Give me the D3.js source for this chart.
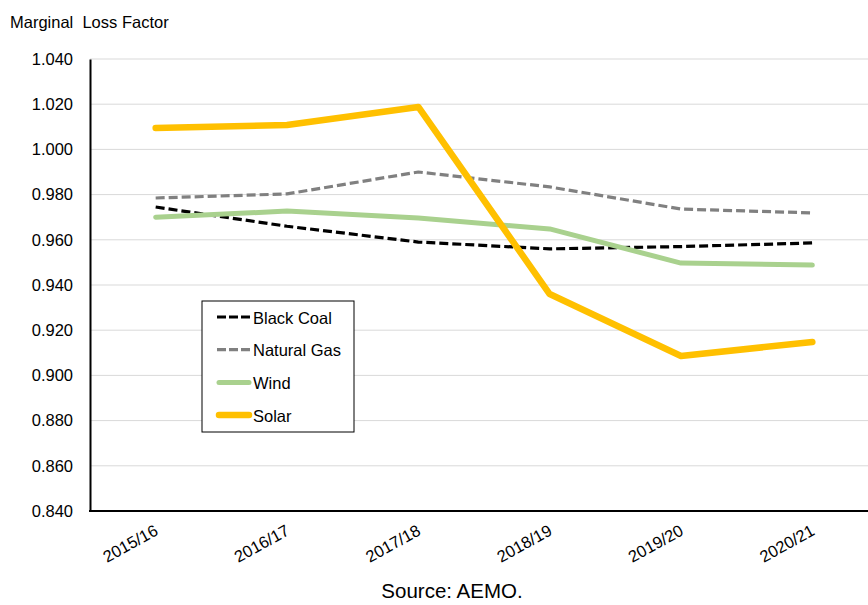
<!DOCTYPE html>
<html>
<head>
<meta charset="utf-8">
<script src="https://cdn.jsdelivr.net/npm/d3@7"></script>
<style>
  body { margin: 0; background: #fff; }
  svg { font-family: "Liberation Sans", Arial, sans-serif; }
</style>
</head>
<body>
<svg width="868" height="605"></svg>
<script>
// data
var years = ["2015/16", "2016/17", "2017/18", "2018/19", "2019/20", "2020/21"];
var blackCoal = [0.9745, 0.966, 0.959, 0.956, 0.957, 0.9586];
var naturalGas = [0.9785, 0.9803, 0.990, 0.9834, 0.9736, 0.9719];
var wind = [0.970, 0.9727, 0.9696, 0.9648, 0.9497, 0.9488];
var solar = [1.0095, 1.0108, 1.0188, 0.936, 0.9086, 0.9148];
var yTicks = [0.84, 0.86, 0.88, 0.90, 0.92, 0.94, 0.96, 0.98, 1.00, 1.02, 1.04];

var series = [
  { name: "Black Coal", values: blackCoal, color: "#000000", width: 3.2, dash: "9,4" },
  { name: "Natural Gas", values: naturalGas, color: "#808080", width: 3.2, dash: "9,4" },
  { name: "Wind", values: wind, color: "#a9d18e", width: 5, dash: null },
  { name: "Solar", values: solar, color: "#ffc000", width: 6.5, dash: null }
];

var svg = d3.select("svg");

var x = d3.scalePoint(years, [90, 878]).padding(0.5);
var y = d3.scaleLinear([0.84, 1.04], [511, 59]);

// gridlines
svg.append("g")
  .selectAll("line")
  .data(yTicks.slice(1))
  .enter().append("line")
  .attr("x1", 90).attr("x2", 868)
  .attr("y1", function (d) { return y(d); })
  .attr("y2", function (d) { return y(d); })
  .attr("stroke", "#d9d9d9")
  .attr("stroke-width", 1);

// y axis
var yAxis = svg.append("g")
  .attr("transform", "translate(90,0)")
  .call(d3.axisLeft(y).tickValues(yTicks).tickFormat(d3.format(".3f")).tickSize(0).tickPadding(17));
yAxis.select(".domain").attr("stroke", "#000").attr("stroke-width", 2);
yAxis.selectAll("text").attr("font-size", 16.5).attr("fill", "#000")
  .attr("font-family", "Liberation Sans, Arial, sans-serif");

// x axis
var xAxis = svg.append("g")
  .attr("transform", "translate(0,511)")
  .call(d3.axisBottom(x).tickSize(0).tickPadding(0));
xAxis.select(".domain").remove();
svg.append("line")
  .attr("x1", 89).attr("x2", 868)
  .attr("y1", 511).attr("y2", 511)
  .attr("stroke", "#000").attr("stroke-width", 2);
xAxis.selectAll("text")
  .attr("font-size", 16.5).attr("fill", "#000")
  .attr("font-family", "Liberation Sans, Arial, sans-serif")
  .attr("text-anchor", "end")
  .attr("dy", 0).attr("y", 0)
  .attr("transform", "translate(3,23) rotate(-29)");

// lines
var line = d3.line()
  .x(function (d, i) { return x(years[i]); })
  .y(function (d) { return y(d); });

svg.append("g")
  .selectAll("path")
  .data(series)
  .enter().append("path")
  .attr("d", function (d) { return line(d.values); })
  .attr("fill", "none")
  .attr("stroke", function (d) { return d.color; })
  .attr("stroke-width", function (d) { return d.width; })
  .attr("stroke-dasharray", function (d) { return d.dash; })
  .attr("stroke-linecap", function (d) { return d.dash ? "butt" : "round"; })
  .attr("stroke-linejoin", "round");

// legend
var legend = svg.append("g");
legend.append("rect")
  .attr("x", 202).attr("y", 301).attr("width", 152).attr("height", 131)
  .attr("fill", "#fff").attr("stroke", "#000").attr("stroke-width", 1);

var item = legend.selectAll("g.item")
  .data(series)
  .enter().append("g")
  .attr("class", "item")
  .attr("transform", function (d, i) { return "translate(0," + (317 + i * 32.7) + ")"; });

item.append("line")
  .attr("x1", function (d) { return d.dash ? 217 : 219; })
  .attr("x2", function (d) { return d.dash ? 251 : 249; })
  .attr("y1", 0).attr("y2", 0)
  .attr("stroke", function (d) { return d.color; })
  .attr("stroke-width", function (d) { return d.width; })
  .attr("stroke-dasharray", function (d) { return d.dash ? "9,3" : null; })
  .attr("stroke-linecap", function (d) { return d.dash ? "butt" : "round"; });

item.append("text")
  .attr("x", 253).attr("y", 6.5)
  .attr("font-size", 16.5)
  .text(function (d) { return d.name; });

// titles
svg.append("text")
  .attr("x", 10).attr("y", 27.5)
  .attr("font-size", 16.5)
  .text("Marginal\u00a0 Loss Factor");

svg.append("text")
  .attr("x", 452).attr("y", 598)
  .attr("text-anchor", "middle")
  .attr("font-size", 20.5)
  .text("Source: AEMO.");
</script>
</body>
</html>
